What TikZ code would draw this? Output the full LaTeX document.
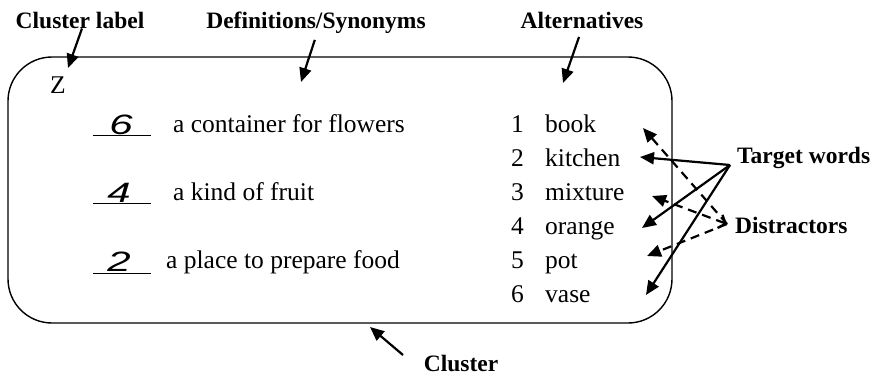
\documentclass[tikz,border=0pt]{standalone}
\usepackage{fontspec}
\setmainfont{Liberation Serif}
\newfontfamily\handfont{Liberation Sans}
\usetikzlibrary{arrows.meta}
\begin{document}
\begin{tikzpicture}[x=1pt,y=-1pt,
  lbl/.style={font=\fontsize{23.5}{25}\selectfont\bfseries, inner sep=0pt, anchor=base},
  txt/.style={font=\fontsize{25.5}{28}\selectfont, inner sep=0pt, anchor=base west},
  hand/.style={font=\handfont\itshape\fontsize{28}{30}\selectfont, inner sep=0pt, anchor=base, xscale=1.5},
  ptr/.style={line width=2.2pt, -{Triangle[length=14pt,width=12pt]}},
  dptr/.style={ptr, dash pattern=on 9pt off 6pt},
  uline/.style={line width=1pt},
]
\useasboundingbox (0,0) rectangle (871,378);
% cluster box
\node (box) [draw, line width=1.4pt, rounded corners=44pt, minimum width=664pt, minimum height=266pt, inner sep=0pt] at (340,190) {};
% top and side labels
\node (clabel) [lbl] at (80,28) {Cluster label};
\node (dlabel) [lbl] at (316,28) {Definitions/Synonyms};
\node (alabel) [lbl] at (582,28) {Alternatives};
\node (cluster) [lbl] at (461,371) {Cluster};
\node (target) [lbl, anchor=base west] at (737,163) {Target words};
\node (distr) [lbl, anchor=base west] at (735,233) {Distractors};
% cluster letter
\node (z) [txt] at (50,93) {Z};
% definitions
\node (h1) [hand] at (121,134) {6};
\node (h2) [hand] at (119,202) {4};
\node (h3) [hand] at (119,271) {2};
\draw[uline] (93,135) -- (151,135);
\draw[uline] (93,203) -- (151,203);
\draw[uline] (93,273) -- (151,273);
\node (d1) [txt] at (173,132) {a container for flowers};
\node (d2) [txt] at (173,200) {a kind of fruit};
\node (d3) [txt] at (166,268) {a place to prepare food};
% alternatives
\node (n1) [txt] at (511,132) {1};
\node (n2) [txt] at (511,166) {2};
\node (n3) [txt] at (511,200) {3};
\node (n4) [txt] at (511,234) {4};
\node (n5) [txt] at (511,268) {5};
\node (n6) [txt] at (511,302) {6};
\node (w1) [txt] at (545,132) {book};
\node (w2) [txt] at (545,166) {kitchen};
\node (w3) [txt] at (545,200) {mixture};
\node (w4) [txt] at (545,234) {orange};
\node (w5) [txt] at (545,268) {pot};
\node (w6) [txt] at (545,302) {vase};
% arrow end points
\coordinate (tclab) at (68,68);
\coordinate (tdef) at (301,82);
\coordinate (talt) at (563,83);
\coordinate (tbox) at (370,327);
\coordinate (scl) at (403,355);
\coordinate (tw) at (730,165);
\coordinate (dw) at (727,224);
\coordinate (tk) at (640,157);
\coordinate (to) at (642,228);
\coordinate (tv) at (646,295);
\coordinate (tb) at (643,128);
\coordinate (tm) at (652,196);
\coordinate (tp) at (647,256);
% label pointers
\draw[ptr] (clabel.south) ++(2,0) -- (tclab);
\draw[ptr, shorten <=7pt] (dlabel.south) ++(1,0) -- (tdef);
\draw[ptr, shorten <=9pt] (alabel.south) -- (talt);
\draw[ptr] (scl) -- (tbox);
% target words
\draw[ptr] (tw) -- (tk);
\draw[ptr] (tw) -- (to);
\draw[ptr] (tw) -- (tv);
% distractors
\draw[dptr] (dw) -- (tb);
\draw[dptr, {Straight Barb[length=6pt,width=14pt]}-{Triangle[length=14pt,width=12pt]}] (dw) -- (tm);
\draw[dptr] (dw) -- (tp);
\end{tikzpicture}
\end{document}
